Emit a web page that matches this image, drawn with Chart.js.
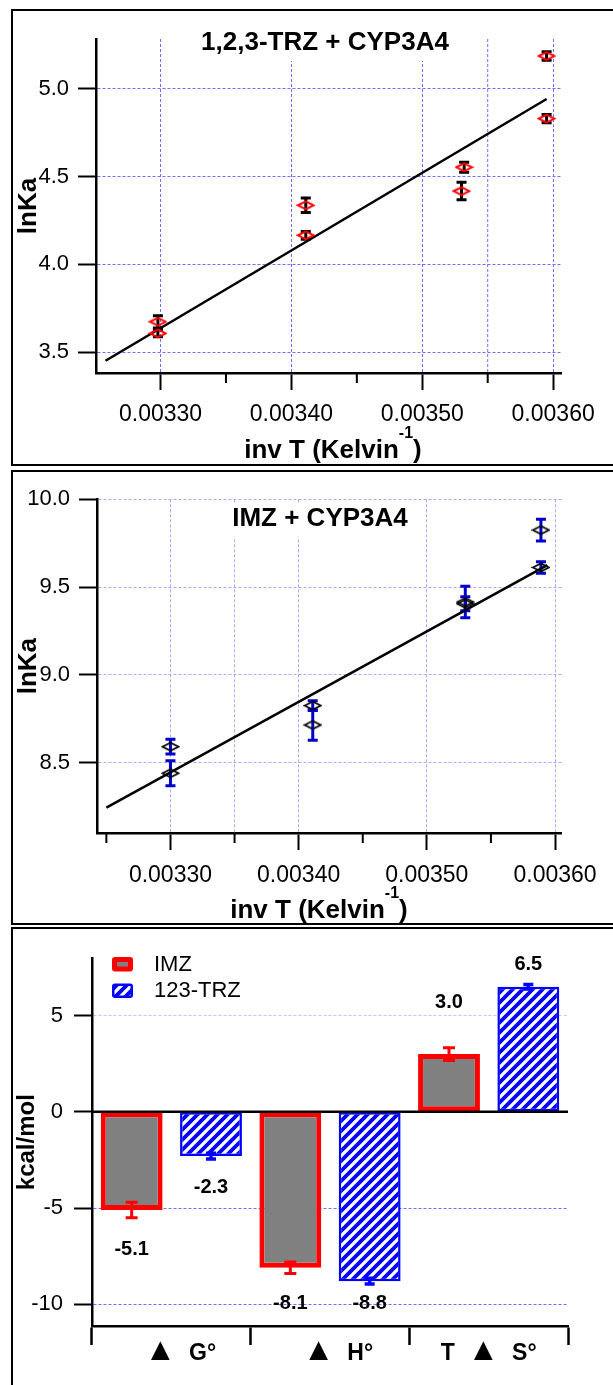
<!DOCTYPE html>
<html>
<head>
<meta charset="utf-8">
<script src="https://cdn.jsdelivr.net/npm/chart.js@4.4.1/dist/chart.umd.min.js"></script>
<style>
  body { margin: 0; background: #fff; width: 613px; height: 1385px; overflow: hidden; position: relative; }
  .frame { position: absolute; left: 11px; width: 700px; border: 2px solid #000; box-sizing: border-box; }
  canvas { position: absolute; left: 0; }
</style>
</head>
<body>
<div class="frame" style="top:9px;height:457px"></div>
<div class="frame" style="top:470px;height:455px"></div>
<div class="frame" style="top:927px;height:500px"></div>
<canvas id="trzChart" width="613" height="466" style="top:0"></canvas>
<canvas id="imzChart" width="613" height="460" style="top:466px"></canvas>
<canvas id="thermoChart" width="613" height="458" style="top:927px"></canvas>
<script>
// 1,2,3-TRZ + CYP3A4 (van 't Hoff)
var trzInvT = [0.003298, 0.003298, 0.003411, 0.003411, 0.003530, 0.003532, 0.003595, 0.003595];
var trzLnKa = [3.673, 3.607, 4.337, 4.166, 4.418, 4.554, 5.188, 4.831];
var trzErr  = [0.035, 0.02, 0.041, 0.022, 0.05, 0.028, 0.024, 0.024];
var trzFitX = [0.003258, 0.003595];
var trzFitY = [3.451, 4.943];

// IMZ + CYP3A4
var imzInvT = [0.0033, 0.0033, 0.003411, 0.003411, 0.00353, 0.00353, 0.003589, 0.003589];
var imzLnKa = [8.591, 8.440, 8.825, 8.715, 9.415, 9.405, 9.825, 9.612];
var imzErr  = [0.042, 0.071, 0.028, 0.087, 0.09, 0.04, 0.062, 0.033];
var imzFitX = [0.00325, 0.003594];
var imzFitY = [8.244, 9.625];

// thermodynamic parameters, kcal/mol
var thermoLabels = ['\u25B2  G\u00B0', '\u25B2  H\u00B0', 'T  \u25B2  S\u00B0'];
var imzThermo    = [-5.1, -8.1, 3.0];
var imzThermoErr = [0.4, 0.3, 0.33];
var trzThermo    = [-2.3, -8.8, 6.5];
var trzThermoErr = [0.15, 0.15, 0.12];

// ticks
var invTTicks      = [0.0033, 0.0034, 0.0035, 0.0036];
var trzMinorTicks  = [0.00335, 0.00345, 0.00355];
var imzMinorTicks  = [0.00325, 0.00335, 0.00345, 0.00355];
var trzMinorGrid   = [0.00355];
var imzMinorGrid   = [0.00335];
var trzLnKaTicks   = [3.5, 4.0, 4.5, 5.0];
var imzLnKaTicks   = [8.5, 9.0, 9.5, 10.0];
var thermoTicks    = [-10, -5, 0, 5];

var FONT = "'Liberation Sans', Arial, sans-serif";
Chart.defaults.color = '#000';
Chart.defaults.font.family = FONT;

function zip(xs, ys) {
    return xs.map(function (x, i) { return {x: x, y: ys[i]}; });
}

function diamond(color, lw) {
    var c = document.createElement('canvas');
    c.width = 19; c.height = 11;
    var g = c.getContext('2d');
    g.strokeStyle = color;
    g.lineWidth = lw;
    g.beginPath();
    g.moveTo(1.5, 5.5); g.lineTo(9.5, 1.5); g.lineTo(17.5, 5.5); g.lineTo(9.5, 9.5);
    g.closePath();
    g.stroke();
    return c;
}

function hatch(ctx) {
    var c = document.createElement('canvas');
    c.width = 10; c.height = 10;
    var g = c.getContext('2d');
    g.fillStyle = '#0000ff';
    g.fillRect(0, 0, 10, 10);
    g.strokeStyle = '#ffffff';
    g.lineWidth = 3.3;
    g.beginPath();
    g.moveTo(-5, 5); g.lineTo(5, -5);
    g.moveTo(0, 10); g.lineTo(10, 0);
    g.moveTo(5, 15); g.lineTo(15, 5);
    g.stroke();
    return ctx.createPattern(c, 'repeat');
}

function drawErrorBars(chart) {
    var ctx = chart.ctx, y = chart.scales.y;
    chart.data.datasets.forEach(function (ds, di) {
        if (!ds.errors) return;
        var meta = chart.getDatasetMeta(di);
        ctx.save();
        ctx.strokeStyle = ds.errorColor;
        ctx.lineWidth = ds.errorWidth;
        meta.data.forEach(function (el, i) {
            var d = ds.data[i];
            var v = typeof d === 'object' ? d.y : d;
            var top = y.getPixelForValue(v + ds.errors[i]);
            var bot = y.getPixelForValue(v - ds.errors[i]);
            var c = ds.capWidth / 2;
            ctx.beginPath();
            ctx.moveTo(el.x, top); ctx.lineTo(el.x, bot);
            ctx.moveTo(el.x - c, top); ctx.lineTo(el.x + c, top);
            ctx.moveTo(el.x - c, bot); ctx.lineTo(el.x + c, bot);
            ctx.stroke();
        });
        ctx.restore();
    });
}

var errorBars = {
    id: 'errorBars',
    beforeDatasetsDraw: function (chart, args, o) { if (o.layer === 'before') drawErrorBars(chart); },
    afterDatasetsDraw: function (chart, args, o) { if (o.layer !== 'before') drawErrorBars(chart); }
};

var minorTicks = {
    id: 'minorTicks',
    beforeDatasetsDraw: function (chart, args, o) {
        var ctx = chart.ctx, x = chart.scales.x, a = chart.chartArea;
        ctx.save();
        ctx.strokeStyle = o.gridColor;
        ctx.lineWidth = 1;
        ctx.setLineDash([3, 2]);
        o.grid.forEach(function (v) {
            var px = x.getPixelForValue(v);
            ctx.beginPath(); ctx.moveTo(px, a.top); ctx.lineTo(px, a.bottom); ctx.stroke();
        });
        ctx.setLineDash([]);
        ctx.strokeStyle = '#000';
        ctx.lineWidth = 2;
        o.ticks.forEach(function (v) {
            var px = x.getPixelForValue(v);
            ctx.beginPath(); ctx.moveTo(px, a.bottom); ctx.lineTo(px, a.bottom + o.length); ctx.stroke();
        });
        ctx.restore();
    }
};

var panelText = {
    id: 'panelText',
    beforeDatasetsDraw: function (chart, args, o) {
        var ctx = chart.ctx;
        ctx.save();
        ctx.font = 'bold 26px ' + FONT;
        var w = ctx.measureText(o.title).width;
        ctx.fillStyle = '#fff';
        ctx.fillRect(o.titleX - w / 2 - 6, o.titleY - 15, w + 12, 33);
        ctx.fillStyle = '#000';
        ctx.textAlign = 'center';
        ctx.textBaseline = 'middle';
        ctx.fillText(o.title, o.titleX, o.titleY);

        // inv T (Kelvin^-1)
        var main = 'inv T (Kelvin', sup = '-1', close = ')';
        ctx.textAlign = 'left';
        ctx.textBaseline = 'alphabetic';
        var w1 = ctx.measureText(main).width;
        var w3 = ctx.measureText(close).width;
        ctx.font = 'bold 16px ' + FONT;
        var w2 = ctx.measureText(sup).width;
        var x0 = o.axisX - (w1 + w2 + w3) / 2;
        ctx.fillText(sup, x0 + w1, o.axisY - 20);
        ctx.font = 'bold 26px ' + FONT;
        ctx.fillText(main, x0, o.axisY);
        ctx.fillText(close, x0 + w1 + w2, o.axisY);
        ctx.restore();
    }
};

function lnKaChart(id, o) {
    return new Chart(document.getElementById(id), {
        type: 'scatter',
        data: {
            datasets: [{
                data: zip(o.invT, o.lnKa),
                pointStyle: o.marker,
                pointRadius: 8,
                errors: o.err,
                errorColor: o.errColor,
                errorWidth: 3,
                capWidth: 10
            }, {
                type: 'line',
                data: zip(o.fitX, o.fitY),
                showLine: true,
                borderColor: '#000',
                borderWidth: 2.5,
                pointRadius: 0
            }]
        },
        options: {
            responsive: false,
            animation: false,
            layout: {
                autoPadding: false,
                padding: {left: 0, top: o.area.top, right: 613 - o.area.right, bottom: 0}
            },
            plugins: {
                legend: {display: false},
                tooltip: {enabled: false},
                errorBars: {layer: 'before'},
                minorTicks: {ticks: o.minor, grid: o.minorGrid, gridColor: o.gridColor, length: 10},
                panelText: {title: o.title, titleX: o.titleX, titleY: o.titleY, axisX: o.axisX, axisY: o.axisY}
            },
            scales: {
                x: {
                    type: 'linear',
                    min: o.xMin,
                    max: o.xMax,
                    afterFit: function (s) { s.height = o.height - o.area.bottom; },
                    afterBuildTicks: function (s) { s.ticks = invTTicks.map(function (v) { return {value: v}; }); },
                    ticks: {
                        font: {size: 23},
                        padding: o.xPad,
                        maxRotation: 0,
                        autoSkip: false,
                        callback: function (v) { return v.toFixed(5); }
                    },
                    grid: {color: o.gridColor, lineWidth: 1, tickColor: '#000', tickLength: 17, tickWidth: 2},
                    border: {display: true, color: '#000', width: 2.5, dash: [3, 2]}
                },
                y: {
                    type: 'linear',
                    min: o.yMin,
                    max: o.yMax,
                    afterFit: function (s) { s.width = o.area.left; },
                    afterBuildTicks: function (s) { s.ticks = o.yTicks.map(function (v) { return {value: v}; }); },
                    ticks: {
                        font: {size: 22},
                        padding: 9,
                        callback: function (v) { return v.toFixed(1); }
                    },
                    grid: {color: o.gridColor, lineWidth: 1, tickColor: '#000', tickLength: 18, tickWidth: 2},
                    border: {display: true, color: '#000', width: 2.5, dash: [3, 2]},
                    title: {
                        display: true,
                        text: 'lnKa',
                        font: {size: 26, weight: 'bold'},
                        padding: {top: 13, bottom: 0}
                    }
                }
            }
        },
        plugins: [errorBars, minorTicks, panelText]
    });
}

lnKaChart('trzChart', {
    invT: trzInvT, lnKa: trzLnKa, err: trzErr, fitX: trzFitX, fitY: trzFitY,
    marker: diamond('#ff0000', 2), errColor: '#000000',
    height: 466, area: {left: 96, top: 39, right: 561, bottom: 373},
    xMin: 0.0032507, xMax: 0.003606, yMin: 3.381, yMax: 5.285, yTicks: trzLnKaTicks,
    minor: trzMinorTicks, minorGrid: trzMinorGrid, gridColor: '#6f6fff', xPad: 11,
    title: '1,2,3-TRZ + CYP3A4', titleX: 325, titleY: 43, axisX: 333, axisY: 458
});

lnKaChart('imzChart', {
    invT: imzInvT, lnKa: imzLnKa, err: imzErr, fitX: imzFitX, fitY: imzFitY,
    marker: diamond('#000000', 1.6), errColor: '#0000cc',
    height: 460, area: {left: 97, top: 33.3, right: 561.7, bottom: 367},
    xMin: 0.0032427, xMax: 0.0036052, yMin: 8.0996, yMax: 10.0, yTicks: imzLnKaTicks,
    minor: imzMinorTicks, minorGrid: imzMinorGrid, gridColor: '#a9a9ff', xPad: 12,
    title: 'IMZ + CYP3A4', titleX: 320, titleY: 53, axisX: 319, axisY: 452
});

// bar chart extras: zero line, value labels, legend
var thermoDecor = {
    id: 'thermoDecor',
    afterDatasetsDraw: function (chart, args, o) {
        var ctx = chart.ctx, a = chart.chartArea, y = chart.scales.y;
        ctx.save();
        var y0 = y.getPixelForValue(0);
        ctx.strokeStyle = '#000';
        ctx.lineWidth = 2.5;
        ctx.beginPath(); ctx.moveTo(a.left, y0); ctx.lineTo(a.right, y0); ctx.stroke();

        ctx.font = 'bold 20px ' + FONT;
        ctx.fillStyle = '#000';
        ctx.textAlign = 'center';
        ctx.textBaseline = 'middle';
        chart.data.datasets.forEach(function (ds, di) {
            chart.getDatasetMeta(di).data.forEach(function (el, i) {
                ctx.fillText(ds.data[i].toFixed(1), el.x, el.y + o.offsets[di][i]);
            });
        });

        ctx.textAlign = 'left';
        ctx.font = '22px ' + FONT;
        chart.data.datasets.forEach(function (ds, di) {
            var bx = o.legendX, by = o.legendY + di * o.legendGap, bw = 21, bh = 14.5;
            var inset = ds.borderWidth;
            ctx.fillStyle = ds.borderColor;
            ctx.beginPath();
            if (ctx.roundRect) ctx.roundRect(bx, by, bw, bh, 3); else ctx.rect(bx, by, bw, bh);
            ctx.fill();
            ctx.fillStyle = ds.backgroundColor;
            ctx.fillRect(bx + inset, by + inset, bw - 2 * inset, bh - 2 * inset);
            ctx.fillStyle = '#000';
            ctx.fillText(ds.label, o.textX, by + bh / 2 + 0.5);
        });
        ctx.restore();
    }
};

// category labels with a larger triangle glyph
var catLabels = {
    id: 'catLabels',
    afterDraw: function (chart, args, o) {
        var ctx = chart.ctx, x = chart.scales.x;
        ctx.save();
        ctx.fillStyle = '#000';
        ctx.textAlign = 'left';
        ctx.textBaseline = 'alphabetic';
        chart.data.labels.forEach(function (lab, i) {
            var segs = [];
            lab.split('\u25B2').forEach(function (p, k) {
                if (k > 0) segs.push({t: '\u25B2', f: o.symbolFont});
                if (p) segs.push({t: p, f: o.font});
            });
            var total = 0;
            segs.forEach(function (s) { ctx.font = s.f; s.w = ctx.measureText(s.t).width; total += s.w; });
            var px = x.getPixelForValue(i) - total / 2 + o.dx[i];
            segs.forEach(function (s) { ctx.font = s.f; ctx.fillText(s.t, px, o.y); px += s.w; });
        });
        ctx.restore();
    }
};

var thermoCanvas = document.getElementById('thermoChart');
new Chart(thermoCanvas, {
    type: 'bar',
    data: {
        labels: thermoLabels,
        datasets: [{
            label: 'IMZ',
            data: imzThermo,
            backgroundColor: '#808080',
            borderColor: '#ff0000',
            borderWidth: 5,
            borderSkipped: false,
            barPercentage: 0.78,
            categoryPercentage: 1.0,
            errors: imzThermoErr,
            errorColor: '#ff0000',
            errorWidth: 3,
            capWidth: 12
        }, {
            label: '123-TRZ',
            data: trzThermo,
            backgroundColor: hatch(thermoCanvas.getContext('2d')),
            borderColor: '#0000ff',
            borderWidth: 2.5,
            borderSkipped: false,
            barPercentage: 0.78,
            categoryPercentage: 1.0,
            errors: trzThermoErr,
            errorColor: '#0000ff',
            errorWidth: 3.5,
            capWidth: 10
        }]
    },
    options: {
        responsive: false,
        animation: false,
        layout: {autoPadding: false, padding: {left: 0, top: 31.3, right: 45, bottom: 0}},
        plugins: {
            legend: {display: false},
            tooltip: {enabled: false},
            errorBars: {layer: 'after'},
            thermoDecor: {
                offsets: [[40, 36, -52], [31, 22, -22]],
                legendX: 112, legendY: 30, legendGap: 26.5, textX: 154
            },
            catLabels: {
                font: 'bold 23px ' + FONT,
                symbolFont: 'bold 32px ' + FONT,
                y: 433,
                dx: [9, 8, 0]
            }
        },
        scales: {
            x: {
                type: 'category',
                offset: true,
                afterFit: function (s) { s.height = 458 - 399; },
                ticks: {display: false},
                grid: {offset: true, drawOnChartArea: false, color: '#000', tickColor: '#000', tickLength: 19, tickWidth: 2.5},
                border: {display: true, color: '#000', width: 2.5}
            },
            y: {
                type: 'linear',
                min: -11.13,
                max: 7.98,
                afterFit: function (s) { s.width = 92; },
                afterBuildTicks: function (s) { s.ticks = thermoTicks.map(function (v) { return {value: v}; }); },
                ticks: {font: {size: 22}, padding: 11, callback: function (v) { return String(v); }},
                grid: {
                    color: function (c) {
                        if (c.tick.value === 0) return 'rgba(0,0,0,0)';
                        return c.tick.value > 0 ? '#c4c4ff' : '#6f6fff';
                    },
                    lineWidth: 1,
                    tickColor: '#000',
                    tickLength: 18,
                    tickWidth: 2
                },
                border: {display: true, color: '#000', width: 2.5, dash: [3, 2]},
                title: {display: true, text: 'kcal/mol', font: {size: 24, weight: 'bold'}, padding: {top: 12.6, bottom: 0}}
            }
        }
    },
    plugins: [errorBars, thermoDecor, catLabels]
});
</script>
</body>
</html>
